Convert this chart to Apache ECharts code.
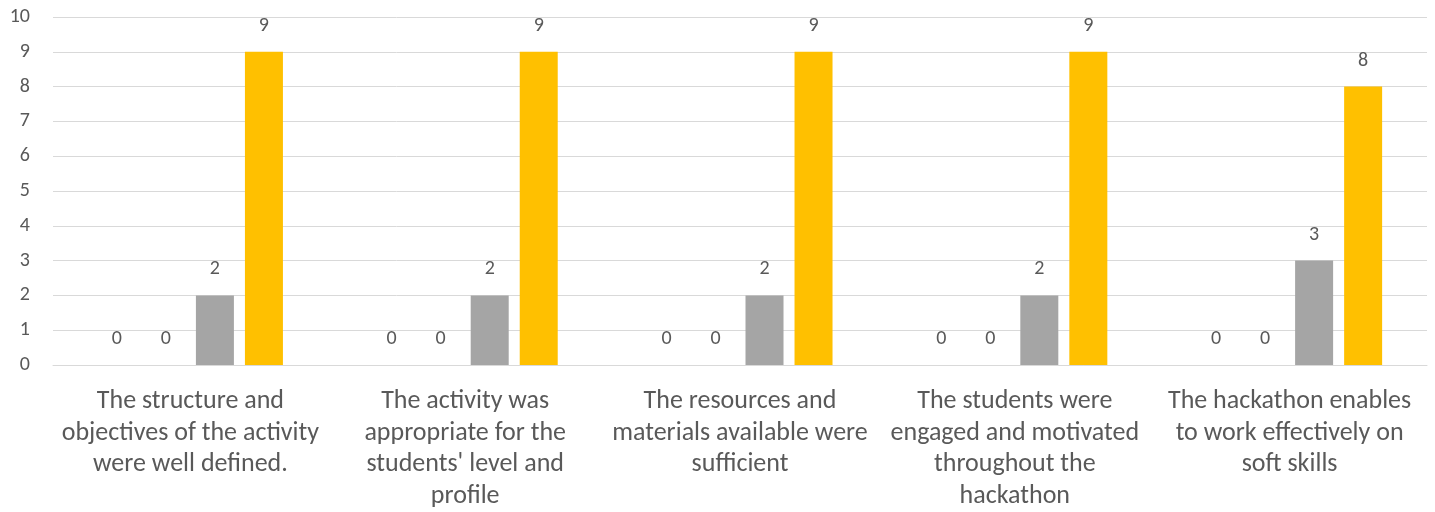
<!DOCTYPE html>
<html>
<head>
<meta charset="utf-8">
<style>
  html, body { margin: 0; padding: 0; background: #ffffff; }
  #chart { width: 1435px; height: 512px; }
</style>
<script src="https://cdn.jsdelivr.net/npm/echarts@6/dist/echarts.min.js"></script>
</head>
<body>
<div id="chart"></div>
<script>
// Survey statements (line breaks as they are laid out under each group)
const categories = [
  "The structure and\nobjectives of the activity\nwere well defined.",
  "The activity was\nappropriate for the\nstudents' level and\nprofile",
  "The resources and\nmaterials available were\nsufficient",
  "The students were\nengaged and motivated\nthroughout the\nhackathon",
  "The hackathon enables\nto work effectively on\nsoft skills"
];

// Answer counts per rating level
const stronglyDisagree = [0, 0, 0, 0, 0];
const disagree         = [0, 0, 0, 0, 0];
const agree            = [2, 2, 2, 2, 3];
const stronglyAgree    = [9, 9, 9, 9, 8];

const yTicks = { min: 0, max: 10, interval: 1 };

const textColor = "#595959";
const fontFamily = "Carlito, Calibri, Lato, 'Open Sans', sans-serif";

const valueLabel = {
  show: true,
  position: "top",
  distance: 16,
  color: textColor,
  fontSize: 20,
  fontFamily: fontFamily
};

function barSeries(name, data, color) {
  return {
    name: name,
    type: "bar",
    data: data,
    barWidth: 38,
    barGap: "29%",
    itemStyle: { color: color },
    label: valueLabel
  };
}

const chart = echarts.init(document.getElementById("chart"), null, { renderer: "canvas" });
chart.setOption({
  animation: false,
  backgroundColor: "#ffffff",
  grid: { left: 53, right: 8, top: 17, bottom: 146, containLabel: false },
  xAxis: {
    type: "category",
    data: categories,
    axisLine: { show: true, lineStyle: { color: "#D9D9D9", width: 1 } },
    axisTick: { show: false },
    axisLabel: {
      interval: 0,
      color: textColor,
      fontSize: 26,
      lineHeight: 31.5,
      margin: 21,
      fontFamily: fontFamily,
      align: "center"
    }
  },
  yAxis: {
    type: "value",
    min: yTicks.min,
    max: yTicks.max,
    interval: yTicks.interval,
    axisLine: { show: false },
    axisTick: { show: false },
    splitLine: { lineStyle: { color: "#D9D9D9", width: 1 } },
    axisLabel: {
      color: textColor,
      fontSize: 20,
      margin: 23,
      fontFamily: fontFamily
    }
  },
  series: [
    barSeries("Strongly disagree", stronglyDisagree, "#4472C4"),
    barSeries("Disagree", disagree, "#ED7D31"),
    barSeries("Agree", agree, "#A5A5A5"),
    barSeries("Strongly agree", stronglyAgree, "#FFC000")
  ]
});
</script>
</body>
</html>
